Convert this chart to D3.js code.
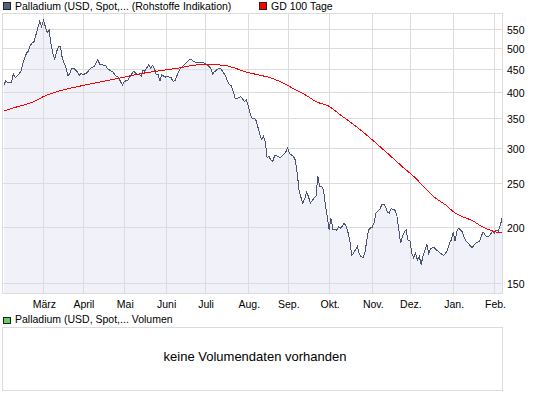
<!DOCTYPE html>
<html>
<head>
<meta charset="utf-8">
<script src="https://cdn.jsdelivr.net/npm/d3@7"></script>
<style>
body { margin: 0; background: #fff; }
text { font-family: "Liberation Sans", Arial, sans-serif; fill: #000; }
</style>
</head>
<body>
<script>
// size of the whole picture
var width = 545,
    height = 395;

// first and last trading day on the chart
var startDate = '2008-02-01',
    endDate = '2009-02-06';

// palladium close in USD, one value per weekday from startDate to endDate
var priceValues = [
  414, 423, 418, 419, 420, 438, 429, 434, 438, 444,
  461, 476, 487, 492, 507, 513, 517, 535, 554, 573,
  558, 575, 558, 540, 549, 511, 485, 473, 491, 504,
  504, 475, 463, 452, 434, 438, 451, 451, 447, 443,
  434, 440, 436, 438, 440, 445, 451, 453, 455, 463,
  471, 459, 459, 458, 457, 451, 447, 444, 442, 436,
  432, 430, 421, 414, 421, 423, 424, 432, 438, 444,
  440, 436, 438, 432, 447, 444, 452, 459, 451, 457,
  451, 436, 436, 423, 436, 433, 431, 432, 431, 429,
  421, 423, 434, 443, 451, 455, 459, 464, 468, 473,
  470, 467, 464, 464, 465, 465, 464, 462, 459, 455,
  451, 438, 443, 446, 450, 451, 446, 439, 432, 421,
  414, 412, 400, 387, 386, 388, 390, 385, 380, 384,
  371, 357, 349, 349, 346, 335, 323, 313, 318, 310,
  285, 287, 282, 280, 288, 288, 287, 285, 288, 291,
  294, 300, 291, 289, 287, 282, 264, 242, 233, 226,
  231, 239, 234, 226, 229, 232, 234, 260, 246, 246,
  242, 224, 211, 197, 209, 198, 198, 197, 200, 199,
  201, 204, 201, 195, 187, 173, 175, 178, 181, 175,
  172, 171, 175, 186, 197, 199, 200, 205, 215, 217,
  219, 224, 225, 222, 216, 215, 220, 219, 218, 213,
  199, 184, 190, 195, 197, 187, 187, 175, 171, 175,
  169, 172, 165, 173, 178, 183, 175, 179, 180, 180,
  178, 177, 175, 174, 173, 175, 178, 184, 187, 195,
  186, 196, 199, 197, 195, 189, 186, 184, 182, 180,
  182, 184, 185, 186, 191, 195, 192, 190, 191, 193,
  196, 194, 197, 196, 201, 209
];

var avgDates = [
  '2008-02-01', '2008-02-08', '2008-02-15', '2008-02-25', '2008-03-03',
  '2008-03-07', '2008-03-14', '2008-03-28', '2008-04-14', '2008-04-29',
  '2008-05-13', '2008-05-28', '2008-06-12', '2008-06-20', '2008-07-01',
  '2008-07-08', '2008-07-16', '2008-07-23', '2008-07-30', '2008-08-07',
  '2008-08-19', '2008-08-27', '2008-09-05', '2008-09-15', '2008-09-22',
  '2008-10-01', '2008-10-09', '2008-10-16', '2008-10-24', '2008-10-31',
  '2008-11-07', '2008-11-13', '2008-11-19', '2008-11-26', '2008-12-04',
  '2008-12-11', '2008-12-18', '2008-12-26', '2009-01-02', '2009-01-09',
  '2009-01-15', '2009-01-21', '2009-01-26', '2009-01-30', '2009-02-03',
  '2009-02-06'
];
var avgValues = [
  362, 368, 373, 380, 390,
  396, 402, 411, 420, 429,
  438, 445, 452, 457, 460,
  459, 457, 451, 443, 437,
  429, 419, 404, 392, 380,
  371, 355, 343, 328, 315,
  302, 292, 282, 270, 257,
  244, 233, 224, 215, 210,
  207, 202, 199, 196, 195,
  195
];

// right axis ticks
var yTicks = [150, 200, 250, 300, 350, 400, 450, 500, 550];

// month labels, March 2008 to February 2009
var monthLabels = ['März', 'April', 'Mai', 'Juni', 'Juli', 'Aug.', 'Sep.',
                   'Okt.', 'Nov.', 'Dez.', 'Jan.', 'Feb.'];

var priceName = 'Palladium (USD, Spot,... (Rohstoffe Indikation)';
var avgName = 'GD 100 Tage';
var volumeName = 'Palladium (USD, Spot,... Volumen';
var noVolumeText = 'keine Volumendaten vorhanden';

// plot area
var plotLeft = 3, plotRight = 503, plotTop = 14, plotBottom = 294;

var parse = d3.timeParse('%Y-%m-%d');
var fmt = d3.timeFormat('%Y-%m-%d');

// all weekdays between start and end, the chart skips weekends
var tradingDays = d3.timeDay.range(parse(startDate), d3.timeDay.offset(parse(endDate), 1))
  .filter(function(d) { return d.getDay() !== 0 && d.getDay() !== 6; });

var dayIndex = {};
tradingDays.forEach(function(d, i) { dayIndex[fmt(d)] = i; });

var x = d3.scaleLinear()
  .domain([0, tradingDays.length - 1])
  .range([plotLeft + 1, plotRight - 1]);

var y = d3.scaleLog()
  .domain([142, 595])
  .range([plotBottom, plotTop]);

// first trading day of each month, without the first month on the chart
var monthStarts = [];
tradingDays.forEach(function(d, i) {
  if (i > 0 && d.getMonth() !== tradingDays[i - 1].getMonth()) monthStarts.push(i);
});

var price = priceValues.map(function(v, i) { return { i: i, v: v }; });
var avg = avgDates.map(function(d, k) { return { i: dayIndex[d], v: avgValues[k] }; });

var svg = d3.select('body')
  .append('svg')
  .attr('width', width)
  .attr('height', height);

// legend on top
svg.append('rect')
  .attr('x', 3.5).attr('y', 2.5).attr('width', 7).attr('height', 7)
  .attr('fill', '#565f80').attr('stroke', '#222');
svg.append('text')
  .attr('x', 15).attr('y', 10)
  .style('font-size', '10.5px')
  .text(priceName);
svg.append('rect')
  .attr('x', 259.5).attr('y', 2.5).attr('width', 7).attr('height', 7)
  .attr('fill', '#ff0000').attr('stroke', '#222');
svg.append('text')
  .attr('x', 271).attr('y', 10)
  .style('font-size', '10.5px')
  .text(avgName);

// area under the price line
svg.append('path')
  .datum(price)
  .attr('fill', '#f1f1fa')
  .attr('d', d3.area()
    .x(function(d) { return x(d.i); })
    .y0(plotBottom)
    .y1(function(d) { return y(d.v); }));

// grid
var grid = svg.append('g')
  .attr('stroke', '#dcdcdc')
  .attr('shape-rendering', 'crispEdges');

grid.selectAll('.h')
  .data(yTicks)
  .enter().append('line')
  .attr('x1', plotLeft).attr('x2', plotRight)
  .attr('y1', function(d) { return Math.round(y(d)) + 0.5; })
  .attr('y2', function(d) { return Math.round(y(d)) + 0.5; });

grid.selectAll('.v')
  .data(monthStarts)
  .enter().append('line')
  .attr('y1', plotTop).attr('y2', plotBottom)
  .attr('x1', function(d) { return Math.round(x(d)) + 0.5; })
  .attr('x2', function(d) { return Math.round(x(d)) + 0.5; });

grid.append('rect')
  .attr('x', plotLeft - 0.5).attr('y', plotTop - 0.5)
  .attr('width', plotRight - plotLeft).attr('height', plotBottom - plotTop)
  .attr('fill', 'none');

// price and average lines
svg.append('path')
  .datum(price)
  .attr('fill', 'none')
  .attr('stroke', '#4b5474')
  .attr('stroke-width', 1)
  .attr('shape-rendering', 'crispEdges')
  .attr('d', d3.line()
    .x(function(d) { return x(d.i); })
    .y(function(d) { return y(d.v); }));

svg.append('path')
  .datum(avg)
  .attr('fill', 'none')
  .attr('stroke', '#ff0000')
  .attr('stroke-width', 1)
  .attr('shape-rendering', 'crispEdges')
  .attr('d', d3.line()
    .curve(d3.curveMonotoneX)
    .x(function(d) { return x(d.i); })
    .y(function(d) { return y(d.v); }));

// right axis labels
svg.selectAll('.ytick')
  .data(yTicks)
  .enter().append('text')
  .attr('x', 507)
  .attr('y', function(d) { return Math.round(y(d)) + 5; })
  .style('font-size', '10.5px')
  .text(function(d) { return d; });

// month labels
svg.selectAll('.xtick')
  .data(monthStarts)
  .enter().append('text')
  .attr('x', function(d) { return x(d) + 1; })
  .attr('y', 308)
  .attr('text-anchor', 'middle')
  .style('font-size', '10.5px')
  .text(function(d, k) { return monthLabels[k]; });

// volume panel
svg.append('rect')
  .attr('x', 3.5).attr('y', 317.5).attr('width', 7).attr('height', 6)
  .attr('fill', '#66cc66').attr('stroke', '#222');
svg.append('text')
  .attr('x', 15).attr('y', 323)
  .style('font-size', '10.5px')
  .text(volumeName);

svg.append('rect')
  .attr('x', plotLeft - 0.5).attr('y', 327.5)
  .attr('width', plotRight - plotLeft).attr('height', 63)
  .attr('fill', 'none')
  .attr('stroke', '#dcdcdc')
  .attr('shape-rendering', 'crispEdges');

svg.append('text')
  .attr('x', (plotLeft + plotRight) / 2 + 2)
  .attr('y', 361)
  .attr('text-anchor', 'middle')
  .style('font-size', '13px')
  .text(noVolumeText);
</script>
</body>
</html>
